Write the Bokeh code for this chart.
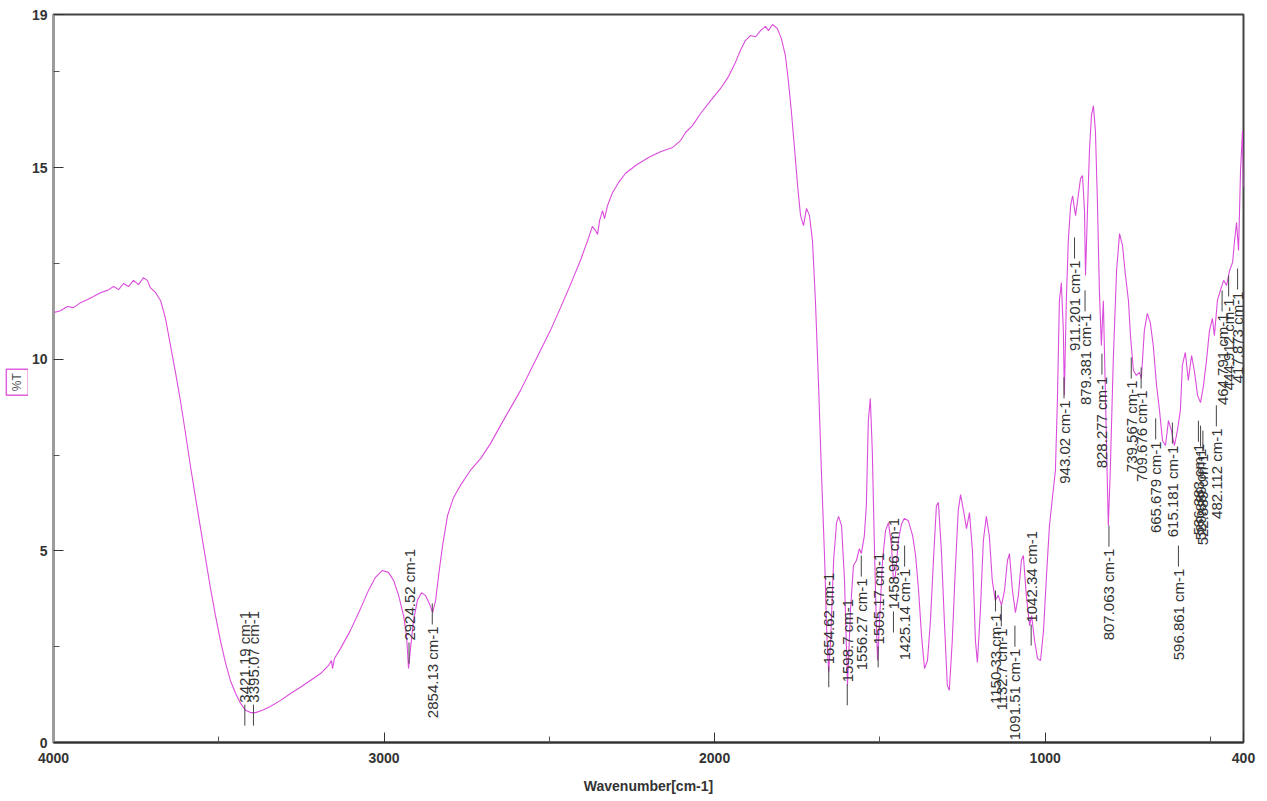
from bokeh.plotting import figure
from bokeh.layouts import row
from bokeh.models import Range1d, FixedTicker, Label
from bokeh.core.properties import value
from bokeh.embed import file_html
from bokeh.resources import INLINE
import math

# ---------------- data ----------------
wavenumber = [
    4000, 3979, 3958, 3940, 3918, 3897, 3879, 3858, 3837, 3818, 3803, 3788, 3773, 3758, 3743, 3728,
    3716, 3707, 3691, 3676, 3661, 3646, 3631, 3616, 3601, 3586, 3570, 3555, 3540, 3525, 3510, 3495,
    3480, 3465, 3449, 3434, 3419, 3404, 3389, 3368, 3344, 3313, 3283, 3253, 3223, 3192, 3168, 3159,
    3156, 3150, 3132, 3102, 3071, 3047, 3026, 3005, 2987, 2971, 2956, 2941, 2932, 2926, 2920, 2911,
    2899, 2887, 2875, 2863, 2853, 2844, 2835, 2823, 2808, 2790, 2769, 2739, 2708, 2678, 2648, 2618,
    2587, 2557, 2527, 2497, 2466, 2436, 2406, 2382, 2370, 2360, 2354, 2348, 2339, 2333, 2324, 2309,
    2291, 2270, 2239, 2200, 2164, 2127, 2103, 2088, 2067, 2043, 2012, 1982, 1958, 1937, 1922, 1907,
    1892, 1876, 1861, 1846, 1837, 1825, 1810, 1798, 1786, 1777, 1768, 1759, 1749, 1740, 1731, 1722,
    1713, 1704, 1695, 1686, 1677, 1667, 1661, 1655, 1649, 1640, 1631, 1625, 1616, 1607, 1598, 1589,
    1580, 1571, 1562, 1556, 1547, 1541, 1535, 1529, 1523, 1517, 1511, 1507, 1501, 1492, 1483, 1474,
    1465, 1459, 1453, 1444, 1435, 1426, 1414, 1401, 1392, 1383, 1374, 1365, 1356, 1347, 1338, 1329,
    1323, 1314, 1305, 1296, 1290, 1281, 1272, 1263, 1256, 1247, 1238, 1229, 1220, 1211, 1205, 1196,
    1187, 1178, 1169, 1160, 1151, 1142, 1132, 1123, 1114, 1108, 1099, 1090, 1081, 1072, 1066, 1057,
    1047, 1041, 1032, 1023, 1014, 1005, 996, 987, 978, 969, 963, 957, 951, 945, 942, 936,
    930, 923, 917, 908, 902, 893, 887, 881, 878, 872, 866, 860, 854, 848, 842, 836,
    830, 824, 818, 812, 809, 803, 794, 784, 775, 766, 757, 748, 742, 733, 724, 715,
    709, 700, 691, 682, 673, 663, 654, 645, 636, 627, 618, 609, 600, 591, 585, 576,
    567, 557, 548, 539, 530, 521, 512, 503, 494, 488, 479, 470, 460, 451, 442, 433,
    427, 421, 415, 409, 403, 400,
]
transmittance = [
    11.22, 11.27, 11.38, 11.35, 11.48, 11.56, 11.64, 11.74, 11.80, 11.90, 11.82, 11.98, 11.90, 12.06, 11.95, 12.13,
    12.06, 11.87, 11.74, 11.53, 11.06, 10.36, 9.66, 8.92, 8.09, 7.23, 6.37, 5.58, 4.80, 4.02, 3.31, 2.66,
    2.09, 1.62, 1.28, 1.02, 0.84, 0.78, 0.78, 0.84, 0.94, 1.10, 1.28, 1.44, 1.62, 1.80, 2.01, 2.14,
    1.93, 2.19, 2.45, 2.92, 3.50, 3.97, 4.31, 4.49, 4.44, 4.23, 3.84, 3.31, 2.79, 1.93, 2.45, 3.18,
    3.71, 3.91, 3.84, 3.63, 3.39, 3.71, 4.36, 5.14, 5.92, 6.39, 6.71, 7.10, 7.41, 7.80, 8.27, 8.72,
    9.19, 9.71, 10.23, 10.75, 11.35, 11.95, 12.58, 13.15, 13.47, 13.36, 13.26, 13.62, 13.88, 13.67, 14.01, 14.35,
    14.61, 14.85, 15.06, 15.27, 15.42, 15.53, 15.71, 15.92, 16.10, 16.41, 16.75, 17.07, 17.38, 17.75, 18.06, 18.32,
    18.45, 18.42, 18.58, 18.69, 18.58, 18.74, 18.63, 18.37, 17.93, 17.28, 16.49, 15.58, 14.54, 13.75, 13.49, 13.94,
    13.75, 13.10, 11.53, 9.45, 7.10, 4.75, 2.92, 1.83, 2.66, 4.75, 5.74, 5.90, 5.66, 4.23, 1.49, 3.44,
    4.62, 4.75, 5.06, 4.93, 5.40, 6.18, 8.40, 8.98, 7.62, 5.27, 3.18, 2.14, 3.18, 4.75, 5.53, 5.74,
    5.14, 4.23, 4.36, 5.27, 5.69, 5.85, 5.79, 5.40, 4.88, 3.97, 2.79, 1.93, 2.14, 3.18, 4.75, 6.18,
    6.26, 5.01, 3.18, 1.49, 1.36, 2.66, 4.49, 6.05, 6.47, 6.05, 5.58, 6.00, 5.01, 2.66, 2.09, 3.44,
    5.27, 5.90, 5.40, 4.23, 3.71, 3.84, 3.58, 3.97, 4.75, 4.93, 3.97, 3.39, 3.84, 4.75, 4.88, 3.84,
    3.05, 3.31, 2.66, 2.19, 2.14, 2.92, 4.36, 5.66, 6.39, 7.10, 8.92, 11.53, 12.00, 10.75, 9.06, 11.53,
    13.10, 14.01, 14.27, 13.75, 14.14, 14.72, 14.80, 13.88, 12.19, 13.88, 15.45, 16.36, 16.62, 15.97, 14.14, 11.80,
    10.36, 11.53, 9.19, 6.84, 5.66, 7.10, 9.97, 12.32, 13.28, 12.97, 12.19, 11.53, 10.62, 9.71, 9.58, 9.66,
    9.50, 10.75, 11.20, 10.96, 10.36, 9.32, 8.66, 7.88, 7.75, 8.40, 8.14, 7.75, 8.14, 8.66, 9.84, 10.18,
    9.45, 10.10, 9.66, 9.06, 8.87, 9.32, 9.97, 10.75, 11.07, 10.62, 11.53, 11.80, 12.06, 11.93, 12.32, 12.53,
    13.10, 13.57, 12.84, 14.93, 15.97, 14.50,
]

# peak annotations whose text sits above the marked point
up_peak_wn = [3421.19, 3395.07, 2924.52, 1654.62, 1598.7, 1505.17, 1458.96, 1042.34]
up_peak_text = ["3421.19 cm-1", "3395.07 cm-1", "2924.52 cm-1", "1654.62 cm-1", "1598.7 cm-1",
                "1505.17 cm-1", "1458.96 cm-1", "1042.34 cm-1"]
up_peak_T = [0.44, 0.44, 2.06, 1.44, 0.97, 1.96, 2.87, 2.53]

# peak annotations whose text sits below the marked point
down_peak_wn = [2854.13, 1556.27, 1425.14, 1150.33, 1132.7, 1091.51, 943.02, 911.201, 879.381,
                828.277, 807.063, 739.567, 709.676, 665.679, 615.181, 596.861, 536.383, 529.889,
                522.889, 482.112, 464.791, 444.912, 417.873]
down_peak_text = ["2854.13 cm-1", "1556.27 cm-1", "1425.14 cm-1", "1150.33 cm-1", "1132.7 cm-1",
                  "1091.51 cm-1", "943.02 cm-1", "911.201 cm-1", "879.381 cm-1", "828.277 cm-1",
                  "807.063 cm-1", "739.567 cm-1", "709.676 cm-1", "665.679 cm-1", "615.181 cm-1",
                  "596.861 cm-1", "536.383 cm-1", "529.889 cm-1", "522.889 cm-1", "482.112 cm-1",
                  "464.791 cm-1", "444.912 cm-1", "417.873 cm-1"]
down_peak_T = [3.63, 4.88, 5.14, 3.97, 3.58, 3.05, 9.53, 13.18, 11.80, 10.15, 5.66, 10.05, 9.79,
               8.46, 8.35, 5.14, 8.40, 8.27, 8.14, 8.80, 11.80, 12.19, 12.37]

x_ticks = [4000, 3000, 2000, 1000, 400]
x_minor = [3500, 2500, 1500, 500]
y_ticks = [0, 5, 10, 15, 19]
y_minor = [2.5, 7.5, 12.5, 17.5]

# ---------------- main figure ----------------
p = figure(
    frame_width=1190, frame_height=728,
    min_border_left=25, min_border_right=16, min_border_top=14, min_border_bottom=58,
    x_range=Range1d(4000, 400), y_range=Range1d(0, 19),
    output_backend="svg", toolbar_location=None,
)
p.grid.visible = False
p.outline_line_color = "#444444"
p.outline_line_width = 2
p.background_fill_color = "white"
p.border_fill_color = "white"

tick_font = "Liberation Sans"
for ax in (p.xaxis[0], p.yaxis[0]):
    ax.major_tick_in = 10
    ax.major_tick_out = 0
    ax.minor_tick_in = 6
    ax.minor_tick_out = 0
    ax.major_label_text_font = tick_font
    ax.major_label_text_font_style = "bold"
    ax.major_label_text_font_size = "14px"
    ax.major_label_text_color = "#333333"
    ax.major_tick_line_color = "#333333"
    ax.minor_tick_line_color = "#555555"

p.xaxis[0].ticker = FixedTicker(ticks=x_ticks, minor_ticks=x_minor)
p.yaxis[0].ticker = FixedTicker(ticks=y_ticks, minor_ticks=y_minor)
p.xaxis[0].axis_line_color = "#333333"
p.xaxis[0].axis_line_width = 2
p.yaxis[0].axis_line_color = "#999999"
p.yaxis[0].axis_line_width = 2
p.xaxis[0].major_label_standoff = 10
p.yaxis[0].major_label_standoff = 6

p.xaxis[0].axis_label = "Wavenumber[cm-1]"
p.xaxis[0].axis_label_text_font = tick_font
p.xaxis[0].axis_label_text_font_style = "bold"
p.xaxis[0].axis_label_text_font_size = "14px"
p.xaxis[0].axis_label_text_color = "#333333"
p.xaxis[0].axis_label_standoff = 12

# spectrum
p.line(wavenumber, transmittance, line_color="#dc4cdc", line_width=1.1)

# peak annotations
lbl_font_size = "15px"
leader = 0.55
p.segment(x0=up_peak_wn, y0=up_peak_T, x1=up_peak_wn,
          y1=[t + leader for t in up_peak_T], line_color="#444444", line_width=1)
p.text(x=up_peak_wn, y=up_peak_T, text=up_peak_text, angle=math.pi / 2,
       text_align="left", text_baseline="middle", y_offset=-23,
       text_font=value("Liberation Sans"), text_font_size=lbl_font_size, text_color="#333333")

p.segment(x0=down_peak_wn, y0=down_peak_T, x1=down_peak_wn,
          y1=[t - leader for t in down_peak_T], line_color="#444444", line_width=1)
p.text(x=down_peak_wn, y=down_peak_T, text=down_peak_text, angle=math.pi / 2,
       text_align="right", text_baseline="middle", y_offset=23,
       text_font=value("Liberation Sans"), text_font_size=lbl_font_size, text_color="#333333")

# ---------------- narrow strip holding the boxed y title ----------------
strip = figure(width=28, height=800, x_range=Range1d(0, 1), y_range=Range1d(0, 1),
               x_axis_type=None, y_axis_type=None, min_border=0,
               output_backend="svg", toolbar_location=None)
strip.grid.visible = False
strip.outline_line_color = None
strip.add_layout(Label(x=0.6, y=0.495, text="%T", angle=math.pi / 2, text_align="center",
                       text_baseline="middle", text_font="Liberation Sans",
                       text_font_size="12px", text_color="#555555",
                       border_line_color="#e060e0", border_line_width=1.5, padding=4))

layout = row(strip, p, spacing=0)
open("out.html", "w").write(file_html(layout, INLINE))
